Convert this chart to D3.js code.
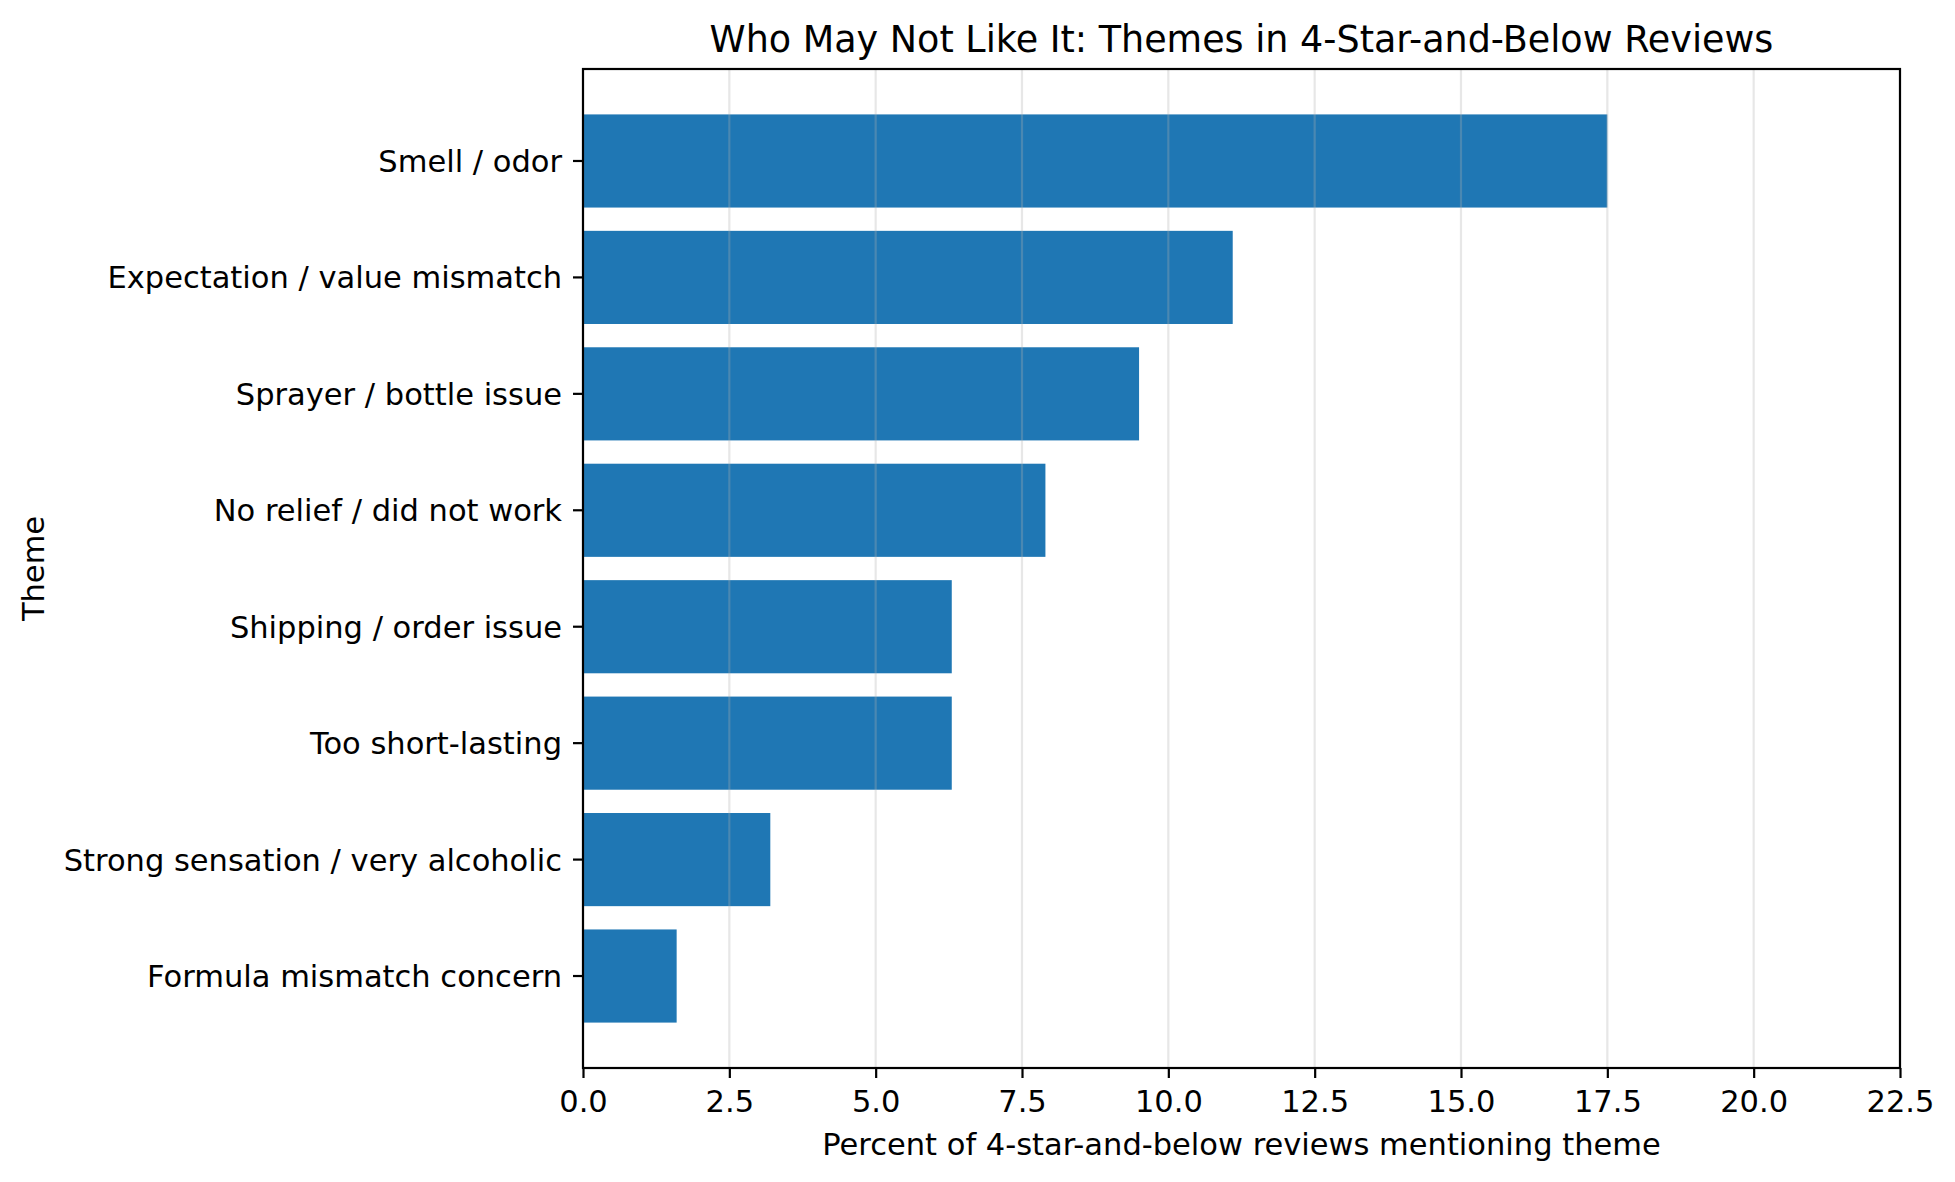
<!DOCTYPE html>
<html lang="en">
<head>
    <meta charset="UTF-8" />
    <title>Who May Not Like It</title>
    <script src="https://d3js.org/d3.v7.min.js"></script>
    <style>
        body { margin: 0; background: #fff; }
        text { font-family: "DejaVu Sans", sans-serif; fill: #000; }
    </style>
</head>
<body>
    <svg id="chart" width="1955" height="1182"></svg>
    <script>
      // data
      var themes = [
        "Smell / odor",
        "Expectation / value mismatch",
        "Sprayer / bottle issue",
        "No relief / did not work",
        "Shipping / order issue",
        "Too short-lasting",
        "Strong sensation / very alcoholic",
        "Formula mismatch concern"
      ];
      var percents = [17.5, 11.1, 9.5, 7.9, 6.3, 6.3, 3.2, 1.6];
      var xTicks = [0, 2.5, 5, 7.5, 10, 12.5, 15, 17.5, 20, 22.5];

      var svg = d3.select("#chart");
      var margin = {left: 583, right: 55, top: 69, bottom: 114};
      var width = 1955 - margin.left - margin.right,
          height = 1182 - margin.top - margin.bottom;

      var g = svg.append("g")
        .attr("transform", "translate(" + margin.left + "," + margin.top + ")");

      var x = d3.scaleLinear()
        .domain([0, 22.5])
        .range([0, width]);

      var y = d3.scaleBand()
        .domain(themes)
        .range([0, height])
        .paddingInner(0.2)
        .paddingOuter(0.39);

      var rows = themes.map(function(t, i){ return {theme: t, value: percents[i]} });

      // bars
      g.selectAll("rect.bar")
        .data(rows)
        .enter()
        .append("rect")
          .attr("class", "bar")
          .attr("x", x(0))
          .attr("y", function(d){ return y(d.theme) })
          .attr("width", function(d){ return x(d.value) - x(0) })
          .attr("height", y.bandwidth())
          .attr("fill", "#1f77b4");

      // vertical grid, drawn above the bars like the original
      g.selectAll("line.grid")
        .data(xTicks)
        .enter()
        .append("line")
          .attr("class", "grid")
          .attr("x1", function(d){ return x(d) })
          .attr("x2", function(d){ return x(d) })
          .attr("y1", 0)
          .attr("y2", height)
          .attr("stroke", "#b0b0b0")
          .attr("stroke-opacity", 0.3)
          .attr("stroke-width", 2.2);

      // axes
      var xAxis = g.append("g")
        .attr("transform", "translate(0," + height + ")")
        .call(d3.axisBottom(x).tickValues(xTicks).tickFormat(d3.format(".1f"))
          .tickSize(10).tickPadding(12).tickSizeOuter(0));

      var yAxis = g.append("g")
        .call(d3.axisLeft(y).tickSize(10).tickPadding(11).tickSizeOuter(0));

      [xAxis, yAxis].forEach(function(a){
        a.select(".domain").remove();
        a.selectAll(".tick line").attr("stroke", "#000").attr("stroke-width", 2.2);
        a.selectAll(".tick text").attr("font-size", "30.5px").attr("font-family", "DejaVu Sans");
      });
      xAxis.selectAll(".tick text").attr("dy", "0.72em");
      yAxis.selectAll(".tick text").attr("dy", "0.36em");

      // frame
      g.append("rect")
        .attr("x", 0)
        .attr("y", 0)
        .attr("width", width)
        .attr("height", height)
        .attr("fill", "none")
        .attr("stroke", "#000")
        .attr("stroke-width", 2.2);

      // title and labels
      svg.append("text")
        .attr("x", margin.left + width / 2)
        .attr("y", 52)
        .attr("text-anchor", "middle")
        .attr("font-size", "36.5px")
        .text("Who May Not Like It: Themes in 4-Star-and-Below Reviews");

      svg.append("text")
        .attr("x", margin.left + width / 2)
        .attr("y", 1155)
        .attr("text-anchor", "middle")
        .attr("font-size", "30.5px")
        .text("Percent of 4-star-and-below reviews mentioning theme");

      svg.append("text")
        .attr("transform", "translate(44," + (margin.top + height / 2) + ") rotate(-90)")
        .attr("text-anchor", "middle")
        .attr("font-size", "30.5px")
        .text("Theme");
    </script>
</body>
</html>
